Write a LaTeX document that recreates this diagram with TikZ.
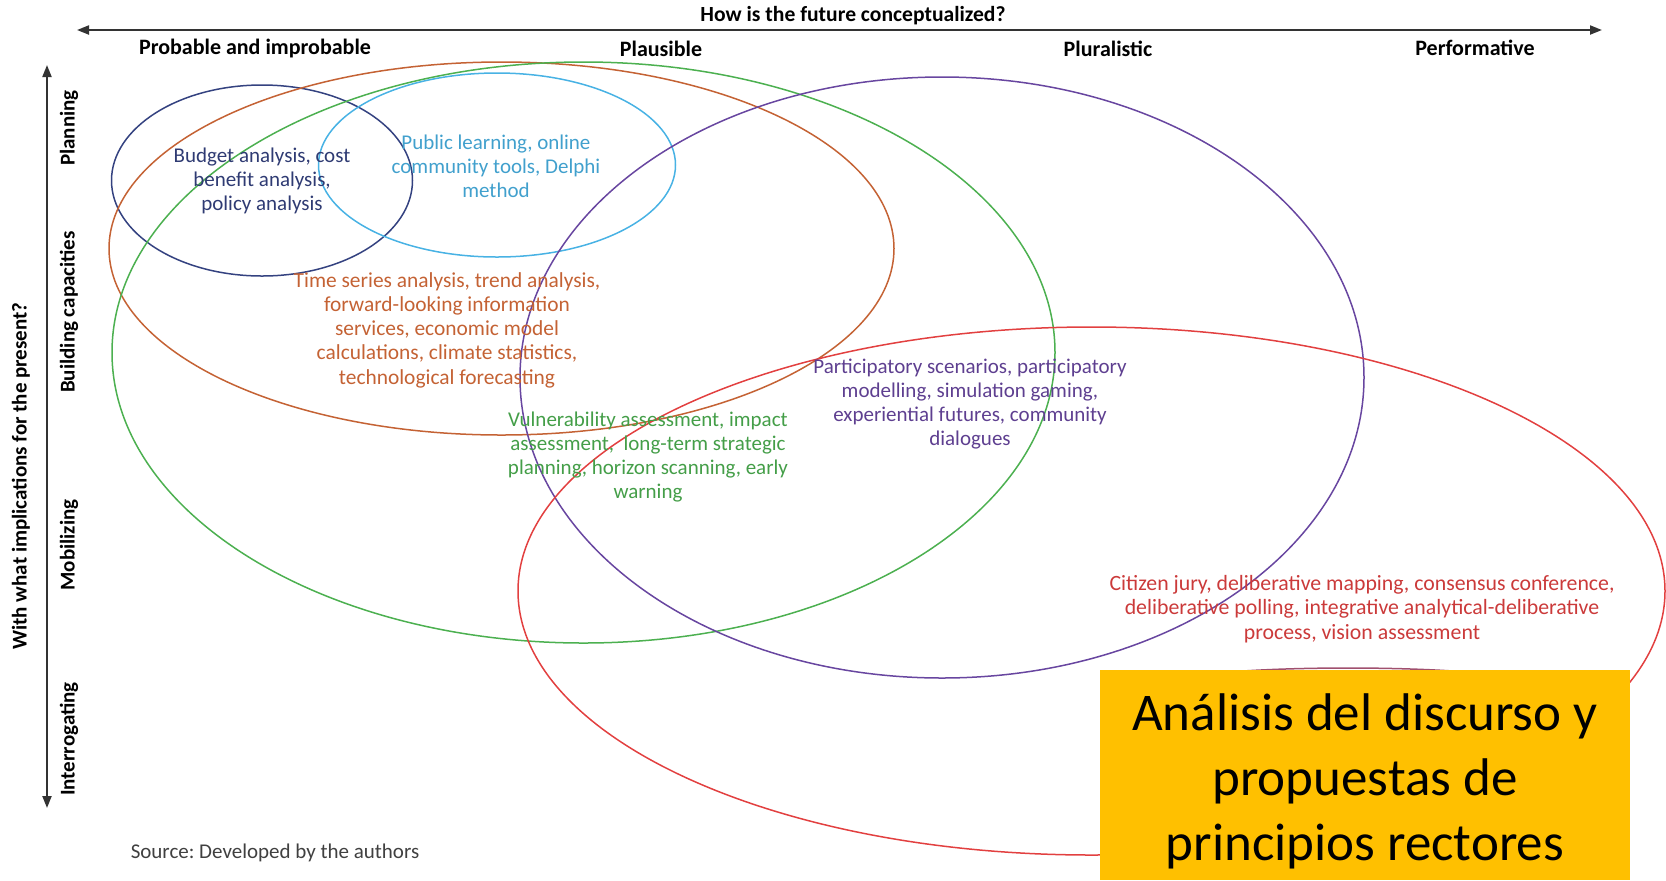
\documentclass[tikz,border=0pt]{standalone}
\usepackage{fontspec}
\setmainfont{Carlito}
\usetikzlibrary{arrows.meta}
\frenchspacing

\definecolor{navyline}{RGB}{52,66,128}
\definecolor{skyline}{RGB}{72,178,228}
\definecolor{rustline}{RGB}{196,98,52}
\definecolor{leafline}{RGB}{76,176,80}
\definecolor{plumline}{RGB}{104,70,160}
\definecolor{redline}{RGB}{226,64,64}
\definecolor{maroonline}{RGB}{160,80,110}
\definecolor{boxgold}{RGB}{255,192,0}

\begin{document}
\begin{tikzpicture}[x=0.5pt,y=-0.5pt,>={Stealth[length=6pt,width=4.5pt,inset=0pt]},
    font=\fontsize{10.5}{12.1}\selectfont,
    axis/.style={font=\bfseries\fontsize{10.5}{12}\selectfont},
    ring/.style={line width=0.75pt},
    tool/.style={align=center,inner sep=0pt}]
                \useasboundingbox (0,0) rectangle (1666,880);
                \coordinate (xMin) at (77,30);
                \coordinate (xMax) at (1602,30);
                \coordinate (yMin) at (47,808);
                \coordinate (yMax) at (47,65);
                \draw[<->, line width=1pt, black!80] (xMin)--(xMax);
                \draw[<->, line width=1pt, black!80] (yMin)--(yMax);
                \node[axis,font=\bfseries\fontsize{10.8}{12}\selectfont] (how) at (853,16) {How is the future conceptualized?};
                \node[axis,font=\bfseries\fontsize{11}{12}\selectfont] (probable) at (255,49) {Probable and improbable};
                \node[axis,font=\bfseries\fontsize{11}{12}\selectfont] (plausible) at (661,49) {Plausible};
                \node[axis,font=\bfseries\fontsize{11}{12}\selectfont] (pluralistic) at (1108,49) {Pluralistic};
                \node[axis,font=\bfseries\fontsize{11}{12}\selectfont] (performative) at (1475,48) {Performative};
                \node[axis,rotate=90] (implications) at (21,476) {With what implications for the present?};
                \node[axis,rotate=90] (planning) at (69,128) {Planning};
                \node[axis,rotate=90] (building) at (69,312) {Building capacities};
                \node[axis,rotate=90] (mobilizing) at (69,545) {Mobilizing};
                \node[axis,rotate=90] (interrogating) at (69,739) {Interrogating};
                % the families of methods
                \draw[ring,navyline] (262,180.5) ellipse [x radius=150.5, y radius=95.5];
                \draw[ring,skyline] (497,165) ellipse [x radius=178.5, y radius=92];
                \draw[ring,rustline] (501.5,248.5) ellipse [x radius=392.5, y radius=186.5];
                \draw[ring,leafline] (583.5,352.5) ellipse [x radius=471.5, y radius=290.5];
                \draw[ring,plumline] (942,377.5) ellipse [x radius=422, y radius=300.5];
                \draw[ring,redline] (1091.5,591) ellipse [x radius=573.5, y radius=264];
                \draw[ring,maroonline] (1348,686) ellipse [x radius=190, y radius=18];
                \node[tool,text=navyline!90!black] (budget) at (262,181) {Budget analysis, cost\\benefit analysis,\\policy analysis};
                \node[tool,text=skyline!90!black] (learning) at (496,166) {Public learning, online\\community tools, Delphi\\method};
                \node[tool,text=rustline,font=\fontsize{10.7}{12.1}\selectfont] (series) at (447,330) {Time series analysis, trend analysis,\\forward-looking information\\services, economic model\\calculations, climate statistics,\\technological forecasting};
                \node[tool,text=leafline!90!black] (vulner) at (648,457) {Vulnerability assessment, impact\\assessment,\ \ long-term strategic\\planning, horizon scanning, early\\warning};
                \node[tool,text=plumline!90!black] (particip) at (970,404) {Participatory scenarios, participatory\\modelling, simulation gaming,\\experiential futures, community\\dialogues};
                \node[tool,text=redline!90!black,font=\fontsize{10.9}{12.2}\selectfont] (citizen) at (1362,609) {Citizen jury, deliberative mapping, consensus conference,\\deliberative polling, integrative analytical-deliberative\\process, vision assessment};
                \node[text=black!75] (source) at (275,853) {Source: Developed by the authors};
                \node[fill=boxgold,minimum width=265pt,minimum height=105pt,inner sep=0pt,anchor=north west] (box) at (1100,670) {};
                \node[align=center,inner sep=0pt,font=\fontsize{26.5}{32.5}\selectfont] (analisis) at (1365,781) {Análisis del discurso y\\propuestas de\\principios rectores};
            \end{tikzpicture}
\end{document}
